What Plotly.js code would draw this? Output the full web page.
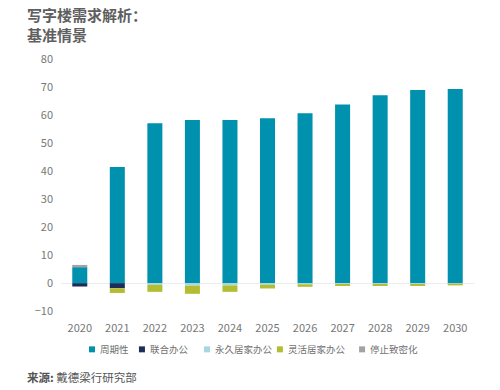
<!DOCTYPE html>
<html>
<head>
<meta charset="utf-8">
<script src="https://cdn.plot.ly/plotly-3.0.1.min.js"></script>
<style>html,body{margin:0;padding:0;background:#fff;}#chart{width:500px;height:390px;}</style>
</head>
<body>
<div id="chart"></div>
<script>
var years = ['2020','2021','2022','2023','2024','2025','2026','2027','2028','2029','2030'];
var cyclical = [5.7, 41.4, 57.0, 58.2, 58.2, 58.8, 60.6, 63.7, 67.0, 68.9, 69.2];
var coworking = [-1.2, -1.8, 0, 0, 0, 0, 0, 0, 0, 0, 0];
var permanentWFH = [0, 0, -0.6, -0.9, -0.8, -0.6, -0.4, -0.3, -0.3, -0.3, -0.2];
var flexibleWFH = [0, -1.7, -2.5, -2.9, -2.3, -1.3, -0.9, -0.7, -0.7, -0.7, -0.6];
var dedensify = [0.8, 0, 0, 0, 0, 0, 0, 0, 0, 0, 0];
var seriesNames = ['周期性', '联合办公', '永久居家办公', '灵活居家办公', '停止致密化'];
var seriesColors = ['#0091ae', '#1c2d5a', '#a6d7e3', '#b4bd32', '#a3a3a3'];
var seriesValues = [cyclical, coworking, permanentWFH, flexibleWFH, dedensify];
var yTicks = [-10, 0, 10, 20, 30, 40, 50, 60, 70, 80];

var FONT = '"Noto Sans CJK SC", "Noto Sans", sans-serif';
var PW = 413, PH = 259;
var traces = seriesNames.map(function(n, i){
  return {type:'bar', name:n, x:years, y:seriesValues[i], width:0.4,
          marker:{color:seriesColors[i], line:{width:0}}, showlegend:false};
});

var legendX = [0.075, 0.196, 0.3535, 0.530, 0.729];
var legendY = -0.137;
var shapes = [];
var annotations = [];
seriesNames.forEach(function(n, i){
  shapes.push({type:'rect', xref:'paper', yref:'paper', line:{width:0}, fillcolor:seriesColors[i],
    x0:legendX[i] - 3/PW, x1:legendX[i] + 3/PW, y0:legendY - 3/PH, y1:legendY + 3/PH});
  annotations.push({xref:'paper', yref:'paper', x:legendX[i] + 6/PW, y:legendY, xanchor:'left', yanchor:'middle',
          showarrow:false, font:{family:FONT, size:9.5, color:'#707070'}, text:n});
});
annotations.push({xref:'paper', yref:'y', x:-0.1, y:81.5, xanchor:'center', yanchor:'top', textangle:-90,
  showarrow:false, font:{family:FONT, size:11, color:'#777'}, text:'净吸纳，百万平方英尺'});
annotations.push({xref:'paper', yref:'paper', x:-0.088, y:-0.245, xanchor:'left', yanchor:'middle',
  showarrow:false, font:{family:FONT, size:11.5, color:'#555'}, text:'<b>来源:</b> 戴德梁行研究部'});
annotations.push({xref:'paper', yref:'paper', x:-0.088, y:1.21, xanchor:'left', yanchor:'top', align:'left',
  showarrow:false, font:{family:FONT, size:15, color:'#5f5f5f'}, text:'<b>写字楼需求解析：</b><br><b>基准情景</b>'});

var layout = {
  width:500, height:390,
  margin:{l:61, r:26, t:55.5, b:75.5},
  paper_bgcolor:'#fff', plot_bgcolor:'#fff',
  barmode:'relative', bargap:0.6,
  xaxis:{type:'category', range:[-0.5, 10.5], showgrid:false, zeroline:false, showline:false,
         ticks:'', ticklabelstandoff:6, tickfont:{family:FONT, size:11, color:'#777'}},
  yaxis:{range:[-11, 81], tickvals:yTicks, showgrid:false, zeroline:true, zerolinecolor:'#ececec',
         zerolinewidth:1, showline:false, ticks:'', ticklabelstandoff:7,
         tickfont:{family:FONT, size:11, color:'#777'}},
  shapes:shapes,
  annotations:annotations,
  showlegend:false
};
Plotly.newPlot('chart', traces, layout, {displayModeBar:false, staticPlot:true});
</script>
</body>
</html>
